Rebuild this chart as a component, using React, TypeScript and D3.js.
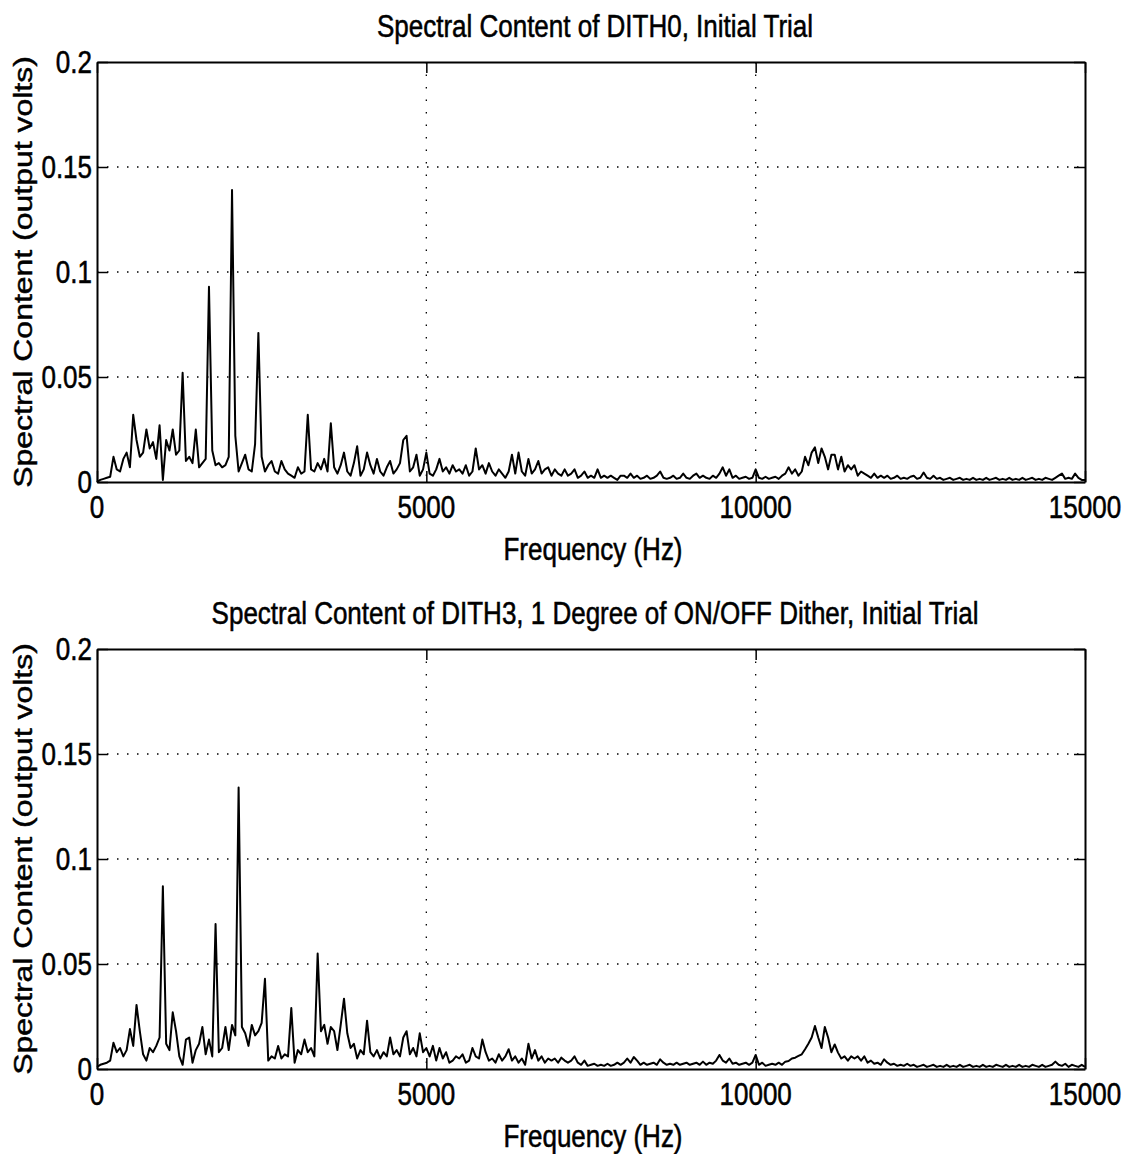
import React, { useRef, useEffect } from 'react'
import * as d3 from 'd3'

// spectral bins are 50 Hz apart, 0 .. 15000 Hz; values are in millivolts
const binHz = 50
const titles = [
  'Spectral Content of DITH0, Initial Trial',
  'Spectral Content of DITH3, 1 Degree of ON/OFF Dither, Initial Trial',
]
const xLabel = 'Frequency (Hz)'
const yLabel = 'Spectral Content (output volts)'
const xTicks = [0, 5000, 10000, 15000]
const yTicks = [0, 0.05, 0.1, 0.15, 0.2]
const yTickLabels = ['0', '0.05', '0.1', '0.15', '0.2']

const dith0mV = [
  0, 1, 1.5, 2, 2.5, 12, 6, 5, 11, 14, 7, 32, 20, 12, 14, 25, 16, 19, 11, 27,
  1, 20, 15, 25, 13, 15, 52, 10, 12, 9, 25, 7, 9, 11, 93, 15, 8, 9, 7, 8,
  12, 139, 22, 5, 9, 13, 6, 5, 18, 71, 12, 5, 8, 10, 5, 4, 10, 6, 4, 3,
  2, 7, 4, 5, 32, 6, 5, 9, 6, 11, 5, 28, 7, 4, 8, 14, 5, 3, 9, 17,
  3, 6, 14, 8, 4, 11, 5, 3, 7, 10, 4, 6, 9, 20, 22, 5, 7, 13, 3, 6,
  14, 4, 3, 6, 11, 5, 7, 4, 8, 5, 6, 4, 8, 3, 5, 16, 6, 8, 4, 9,
  5, 3, 6, 4, 2, 5, 13, 4, 14, 5, 3, 11, 4, 6, 10, 4, 6, 7, 3, 6,
  4, 3, 6, 3, 4, 6, 2, 3, 5, 2, 3, 2, 6, 2, 3, 2, 3, 2, 1, 3,
  3, 2, 4, 2, 3, 1.5, 2, 3, 1.5, 2, 3, 5, 2, 1.5, 2, 3, 1.5, 2, 4, 2,
  1.5, 3, 4, 2, 3, 2, 1.5, 3, 2, 4, 7, 3, 6, 2, 3, 1.5, 2, 2.5, 1.5, 2,
  6, 2, 1.5, 2.5, 1.5, 2, 2.5, 1.5, 3, 4, 7, 4, 6, 3, 5, 12, 8, 14, 16.5, 9,
  16, 12, 6, 13, 13, 6, 12, 5, 8, 6, 8, 3, 5, 4, 3, 2, 4, 2, 3, 2,
  3, 1.5, 2, 3, 1.5, 2, 1.5, 2.5, 3, 1.5, 2, 4.5, 2, 1.5, 3, 1.5, 2, 1, 1.5, 2,
  1, 1.5, 2, 1, 1.5, 1, 2, 1, 1.5, 1, 2, 1, 1.5, 2, 1, 1.5, 1, 2, 1, 1.5,
  1, 2, 1, 1.5, 2, 1, 1.5, 1, 2, 1.5, 1, 2, 3, 4, 1.5, 2, 1.5, 4, 2, 1,
  1,
]

const dith3mV = [
  1, 2, 2.5, 3, 4, 12.5, 8, 10, 6, 9, 19, 11, 30.5, 18, 7, 4, 10, 8, 11, 15,
  87, 12, 9, 27, 18, 6, 2, 14, 15, 3, 9, 12, 20, 7, 14, 6, 69, 8, 10, 20,
  9, 21, 16, 134, 20, 17, 11, 21, 16, 18, 22, 43, 4, 6, 5, 11, 5, 7, 6, 29,
  3, 9, 7, 14, 8, 10, 6, 55, 18, 21, 12, 20, 18, 9, 21, 33.5, 17, 10, 12, 5,
  9, 7, 23, 8, 6, 9, 5, 8, 6, 15, 7, 9, 6, 15, 18, 7, 10, 6, 17, 8,
  10, 6, 11, 4, 10, 5, 8, 3, 4, 6, 5, 7, 3, 4, 10, 6, 5, 14, 8, 4,
  5, 3, 7, 4, 6, 9.4, 4, 6, 3, 5, 2, 12, 5, 9, 4, 6, 3, 5, 4, 5,
  3, 5.4, 4, 3, 4, 6, 3, 2, 4, 1.5, 2, 2.5, 1.5, 2, 1.5, 2.5, 1.5, 2, 3, 2,
  3, 5, 3, 5.7, 4, 2, 3, 2, 2.5, 3, 2, 4.6, 3, 2, 2.5, 2, 3, 2, 2.5, 3,
  2, 2.5, 3, 2, 3.5, 2, 3, 2.5, 4, 6.7, 4, 3, 5, 2.5, 3, 2, 2.5, 3, 2, 3,
  6.7, 2, 3, 1.5, 2, 2.5, 2, 3, 2, 3.5, 3.8, 5, 5.4, 6.2, 7, 9.4, 12, 15, 20.5, 15,
  10, 20, 15, 8, 11.7, 7.8, 5, 6, 4, 6, 5, 6, 4, 6, 3, 4, 2.5, 3, 2, 4.6,
  3, 2, 2.5, 1.5, 2, 1.5, 2.5, 1.5, 2, 1, 1.5, 2, 1, 1.5, 2, 1, 1.5, 1, 2, 1,
  1.5, 1, 2, 1, 1.5, 2, 1, 1.5, 1, 2, 1, 1.5, 1, 2, 1.5, 1, 2, 1, 1.5, 1,
  2, 1, 1.5, 1, 2, 1.5, 1, 2, 1, 1.5, 2, 3.5, 2, 1.5, 2.5, 1, 2, 1.5, 1, 2,
  1,
]

const App = () => {
  const svgRef = useRef(null)

  useEffect(() => {
    const width = 1128
    const height = 1154
    const left = 97
    const right = 1085
    const plotH = 420
    const panelTops = [62, 649]
    const stretch = 1.23 // the scan is a little taller than wide
    const font = "'Liberation Sans', Arial, Helvetica, sans-serif"

    const svg = d3.select(svgRef.current)
    svg.selectAll('*').remove()
    svg.attr('width', width).attr('height', height)

    const x = d3.scaleLinear().domain([0, 15000]).range([left, right])

    const series = [dith0mV, dith3mV]

    // scanned text looks a bit heavier than plain Arial
    const label = (sel) => sel
      .attr('font-family', font).attr('font-size', 26)
      .attr('fill', '#000').attr('stroke', '#000').attr('stroke-width', 0.45)

    series.forEach((vals, p) => {
      const top = panelTops[p]
      const y = d3.scaleLinear().domain([0, 0.2]).range([top + plotH, top])
      const g = svg.append('g')

      // dotted grid
      g.selectAll('line.gy')
        .data(yTicks.slice(1, -1))
        .join('line')
        .attr('x1', left).attr('x2', right)
        .attr('y1', d => y(d)).attr('y2', d => y(d))
        .attr('stroke', '#000').attr('stroke-width', 1.3)
        .attr('stroke-dasharray', '1.5,8.5')
      g.selectAll('line.gx')
        .data(xTicks.slice(1, -1))
        .join('line')
        .attr('x1', d => x(d)).attr('x2', d => x(d))
        .attr('y1', top).attr('y2', top + plotH)
        .attr('stroke', '#000').attr('stroke-width', 1.3)
        .attr('stroke-dasharray', '1.5,11')

      // spectrum trace
      const line = d3.line()
        .x((d, i) => x(i * binHz))
        .y(d => y(d / 1000))
      g.append('path')
        .attr('d', line(vals))
        .attr('fill', 'none')
        .attr('stroke', '#000')
        .attr('stroke-width', 2)
        .attr('stroke-linejoin', 'round')

      // inward ticks on all four sides
      const noLabel = () => ''
      const tk = 11
      g.append('g').attr('transform', `translate(${left},0)`)
        .call(d3.axisLeft(y).tickValues(yTicks).tickSize(-tk).tickSizeOuter(0).tickFormat(noLabel))
      g.append('g').attr('transform', `translate(${right},0)`)
        .call(d3.axisRight(y).tickValues(yTicks).tickSize(-tk).tickSizeOuter(0).tickFormat(noLabel))
      g.append('g').attr('transform', `translate(0,${top + plotH})`)
        .call(d3.axisBottom(x).tickValues(xTicks).tickSize(-tk).tickSizeOuter(0).tickFormat(noLabel))
      g.append('g').attr('transform', `translate(0,${top})`)
        .call(d3.axisTop(x).tickValues(xTicks).tickSize(-tk).tickSizeOuter(0).tickFormat(noLabel))
      g.selectAll('.domain').attr('stroke-width', 2)
      g.selectAll('.tick line').attr('stroke-width', 1.5)

      // y tick labels
      g.selectAll('text.yt')
        .data(yTicks)
        .join('text')
        .attr('transform', d => `translate(${left - 5},${y(d) + 11}) scale(1,${stretch})`)
        .attr('text-anchor', 'end')
        .call(label)
        .text((d, i) => yTickLabels[i])

      // x tick labels
      g.selectAll('text.xt')
        .data(xTicks)
        .join('text')
        .attr('transform', d => `translate(${x(d)},${top + plotH + 36}) scale(1,${stretch})`)
        .attr('text-anchor', 'middle')
        .call(label)
        .text(d => String(d))

      // title
      g.append('text')
        .attr('transform', `translate(595,${top - 25}) scale(1,${stretch})`)
        .attr('text-anchor', 'middle')
        .call(label)
        .text(titles[p])

      // x label
      g.append('text')
        .attr('transform', `translate(593,${top + plotH + 78}) scale(1,${stretch})`)
        .attr('text-anchor', 'middle')
        .call(label)
        .text(xLabel)

      // y label
      g.append('text')
        .attr('transform', `translate(32,${top + plotH / 2}) rotate(-90) scale(${stretch},1)`)
        .attr('text-anchor', 'middle')
        .call(label)
        .text(yLabel)
    })
  })

  return (
    <div>
      <svg ref={svgRef} style={{ position: 'absolute', left: 0, top: 0, background: '#fff' }} />
    </div>
  )
}

export default App
